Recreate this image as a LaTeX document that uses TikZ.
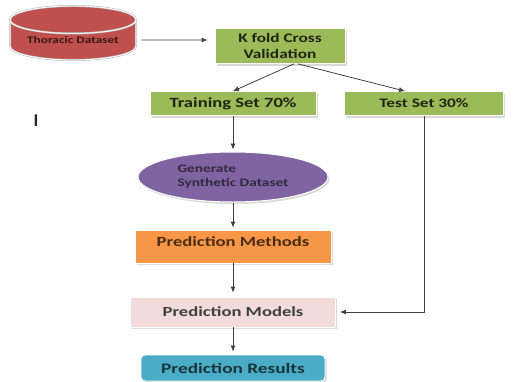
\documentclass[tikz,border=0pt]{standalone}
\usepackage{fontspec}
\setmainfont{Carlito}
\usetikzlibrary{shapes.geometric, shadows, arrows.meta}
\definecolor{dsred}{HTML}{C0504D}
\definecolor{kgreen}{HTML}{9BBB59}
\definecolor{spurple}{HTML}{8064A2}
\definecolor{morange}{HTML}{F79646}
\definecolor{mpink}{HTML}{F2DCDB}
\definecolor{rteal}{HTML}{4BACC6}
\newcommand{\wide}[1]{\scalebox{1.33}[1]{#1}}
\tikzset{
stage/.style={rectangle, draw=white, line width=0.8pt, inner sep=0, font=\bfseries\fontsize{14}{16}\selectfont, drop shadow={shadow xshift=1.5pt, shadow yshift=-2pt, opacity=0.3}},
split/.style={stage, fill=kgreen, text=black!80!kgreen},
dataset/.style={cylinder, shape border rotate=90, aspect=0.3, fill=dsred, draw=black!25, line width=0.6pt, double=white, double distance=0.8pt, inner sep=0, minimum width=126pt, minimum height=54pt, text=black!70!dsred, font=\bfseries\fontsize{10}{12}\selectfont},
synth/.style={ellipse, fill=spurple, draw=white, line width=1pt, inner sep=0, minimum width=190pt, minimum height=50pt, text=black!60!spurple, font=\bfseries\fontsize{11.5}{14}\selectfont, align=left, drop shadow={shadow xshift=1.5pt, shadow yshift=-2pt, opacity=0.3}},
flow/.style={-{Latex[length=6pt, width=5pt]}, draw=black!75, line width=0.8pt}}

\begin{document}
\begin{tikzpicture}[x=1pt, y=-1pt]
\useasboundingbox (0,0) rectangle (514,381);
\node [dataset] (thoracic) at (73,40) {\wide{Thoracic Dataset}};
\node [split, minimum width=130pt, minimum height=35pt, align=center, font=\bfseries\fontsize{13}{16}\selectfont] (kfold) at (280,46) {\wide{K fold Cross}\\ \wide{Validation}};
\node [split, minimum width=166pt, minimum height=24pt] (train) at (233,103.5) {\wide{Training Set 70\%}};
\node [split, minimum width=159pt, minimum height=24pt, font=\bfseries\fontsize{13}{16}\selectfont] (test) at (424,103.5) {\wide{Test Set 30\%}};
\node [synth] (gen) at (233,177) {\wide{Generate}\\ \wide{Synthetic Dataset}};
\node [stage, fill=morange, text=black!70!morange, minimum width=196pt, minimum height=33pt, text height=10pt, text depth=10pt] (methods) at (233,246.5) {\wide{Prediction Methods}};
\node [stage, fill=mpink, text=black!75, minimum width=205pt, minimum height=30pt] (models) at (233,312) {\wide{Prediction Models}};
\node [stage, fill=rteal, text=black!70!rteal, rounded corners=4pt, minimum width=184pt, minimum height=26pt, font=\bfseries\fontsize{14.5}{16}\selectfont] (results) at (233,368) {\wide{Prediction Results}};
\node [font=\bfseries\fontsize{18}{18}\selectfont, text=black!85] (cursor) at (36,121) {I};
\draw [flow, shorten <=5pt, shorten >=7pt] (thoracic) -- (thoracic -| kfold.west);
\draw [flow] ([xshift=14pt]kfold.south) -- (train.north);
\draw [flow] ([xshift=18pt]kfold.south) -- ([xshift=-19pt]test.north);
\draw [flow, shorten >=2pt] (train) -- (gen);
\draw [flow, shorten >=2pt] (gen) -- (methods);
\draw [flow, shorten >=4pt] (methods) -- (models);
\draw [flow, shorten >=3pt] (models) -- (results);
\draw [flow, shorten >=4pt] (test.south) |- (models.east);
\end{tikzpicture}
\end{document}
